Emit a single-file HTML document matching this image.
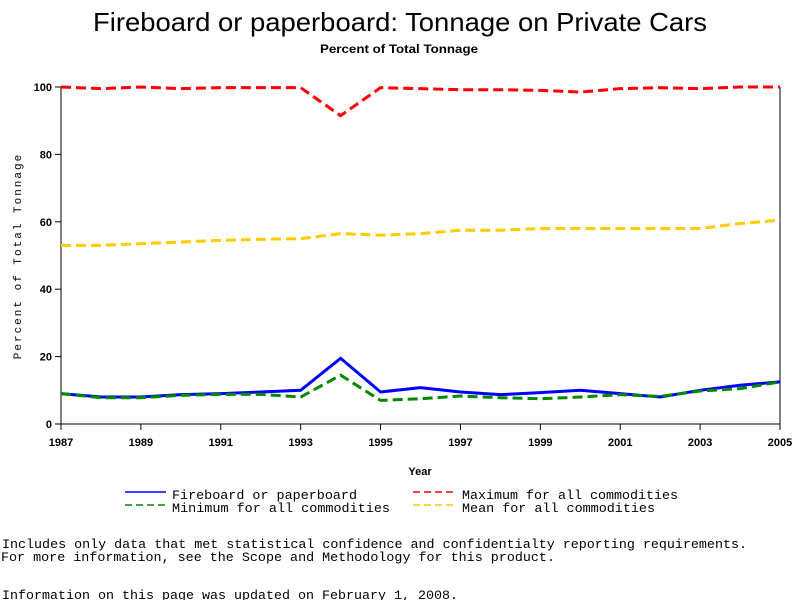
<!DOCTYPE html>
<html><head><style>
body{margin:0;background:#fff;width:800px;height:600px;overflow:hidden}
</style></head><body>
<svg id="s" width="800" height="600" xmlns="http://www.w3.org/2000/svg" font-family="Liberation Sans, sans-serif">
<text x="93" y="31" font-size="26" textLength="614" lengthAdjust="spacingAndGlyphs">Fireboard or paperboard: Tonnage on Private Cars</text>
<text x="320" y="53" font-size="12" font-weight="bold" textLength="158" lengthAdjust="spacingAndGlyphs">Percent of Total Tonnage</text>
<line x1="61" y1="87" x2="61" y2="424" stroke="#000"/>
<line x1="780" y1="87" x2="780" y2="424" stroke="#000"/>
<line x1="61" y1="424" x2="780" y2="424" stroke="#000"/>
<g id="g"></g>
<text transform="translate(21,256) rotate(-90)" font-family="Liberation Mono, monospace" font-size="11" text-anchor="middle" letter-spacing="2">Percent of Total Tonnage</text>
<text x="420" y="475" font-size="11" font-weight="bold" text-anchor="middle">Year</text>
<line x1="125" y1="492" x2="166" y2="492" stroke="#00f" stroke-width="1.5"/>
<line x1="125" y1="505" x2="166" y2="505" stroke="#080" stroke-width="1.5" stroke-dasharray="7,4"/>
<line x1="413" y1="492" x2="455" y2="492" stroke="#f00" stroke-width="1.5" stroke-dasharray="7,4"/>
<line x1="413" y1="505" x2="455" y2="505" stroke="#fc0" stroke-width="1.5" stroke-dasharray="7,4"/>
<g font-family="Liberation Mono, monospace" font-size="13">
<text x="172" y="499" textLength="185" lengthAdjust="spacingAndGlyphs">Fireboard or paperboard</text>
<text x="172" y="512" textLength="218" lengthAdjust="spacingAndGlyphs">Minimum for all commodities</text>
<text x="462" y="499" textLength="216" lengthAdjust="spacingAndGlyphs">Maximum for all commodities</text>
<text x="462" y="512" textLength="193" lengthAdjust="spacingAndGlyphs">Mean for all commodities</text>
<text x="2" y="548" textLength="745" lengthAdjust="spacingAndGlyphs">Includes only data that met statistical confidence and confidentialty reporting requirements.</text>
<text x="1" y="561" textLength="554" lengthAdjust="spacingAndGlyphs">For more information, see the Scope and Methodology for this product.</text>
<text x="2" y="599" textLength="456" lengthAdjust="spacingAndGlyphs">Information on this page was updated on February 1, 2008.</text>
</g>
</svg>
<script>
var g=document.getElementById('g'),ns="http://www.w3.org/2000/svg";
function X(i){return 61+i*719/18}function Y(v){return 424-3.37*v}
function el(t,a,txt){var e=document.createElementNS(ns,t);for(var k in a)e.setAttribute(k,a[k]);if(txt!=null)e.textContent=txt;g.appendChild(e);return e}
for(var v=0;v<=100;v+=20){el('line',{x1:55,x2:61,y1:Y(v),y2:Y(v),stroke:'#000'});el('text',{x:52,y:Y(v)+4,'font-size':11,'font-weight':'bold','text-anchor':'end'},v)}
for(var i=0;i<=18;i+=2){el('line',{x1:X(i),x2:X(i),y1:424,y2:430,stroke:'#000'});el('text',{x:X(i),y:446,'font-size':11,'font-weight':'bold','text-anchor':'middle'},1987+i)}
var S=[
['#fc0',[53,53,53.5,54,54.5,54.8,55,56.5,56,56.5,57.5,57.5,58,58,58,58,58,59.5,60.5],'10,5'],
['#f00',[100,99.5,100,99.5,99.8,99.8,99.8,91.5,99.8,99.5,99.2,99.2,99,98.5,99.5,99.8,99.5,100,100],'10,5'],
['#00f',[9,8,8,8.7,9,9.5,10,19.5,9.5,10.8,9.5,8.7,9.3,10,9,8,10,11.5,12.5],null],
['#080',[9,7.8,7.8,8.5,8.8,8.8,8,14.5,7,7.5,8.3,7.8,7.5,8,8.7,8.2,9.8,10.5,12.5],'10,5']];
S.forEach(function(s){var p=s[1].map(function(v,i){return X(i)+','+Y(v)}).join(' ');var a={points:p,fill:'none',stroke:s[0],'stroke-width':3};if(s[2])a['stroke-dasharray']=s[2];el('polyline',a)});
</script>
</body></html>
